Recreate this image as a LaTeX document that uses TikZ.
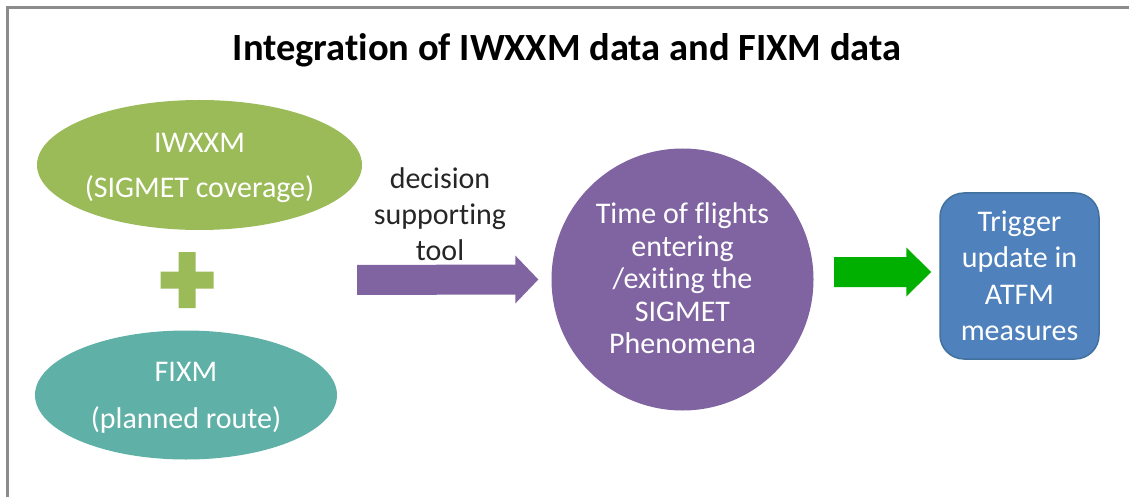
\documentclass[tikz,border=0pt]{standalone}
\usepackage{fontspec}
\setmainfont{Carlito}[Ligatures={NoCommon}]
\usetikzlibrary{shapes.geometric}
\definecolor{ogreen}{HTML}{9BBB59}
\definecolor{oteal}{HTML}{5FB0A6}
\definecolor{opurple}{HTML}{8064A2}
\definecolor{obright}{HTML}{00B000}
\definecolor{oblue}{HTML}{4F81BD}
\definecolor{oblueline}{HTML}{41719C}
\definecolor{frame}{HTML}{8C8C8C}
\tikzset{
  bodytext/.style={font=\fontsize{30}{#1}\selectfont, align=center, inner sep=0pt},
  oval/.style={ellipse, inner sep=0pt, text=white}
}
\begin{document}
\begin{tikzpicture}[x=1pt,y=-1pt]
\useasboundingbox (0,0) rectangle (1129,497);
% frame (top and left edges)
\draw[frame, line width=2.5pt] (7.5,497) -- (7.5,7.5) -- (1129,7.5);
% title
\node[font=\bfseries\fontsize{38.5}{44}\selectfont, inner sep=0pt] (title) at (567,50) {Integration of IWXXM data and FIXM data};
% IWXXM ellipse
\node[oval, fill=ogreen, minimum width=325, minimum height=130] (iw) at (199.5,165) {};
\node[bodytext=45, text=white] (iwt) at ([shift={(0,3)}]iw.center) {IWXXM\\(SIGMET coverage)};
% plus sign
\coordinate (plus) at (187,280);
\fill[ogreen] ([shift={(-8.5,-28)}]plus) -- ([shift={(8.5,-28)}]plus) -- ([shift={(8.5,-8.5)}]plus)
  -- ([shift={(26.5,-8.5)}]plus) -- ([shift={(26.5,8.5)}]plus) -- ([shift={(8.5,8.5)}]plus)
  -- ([shift={(8.5,28)}]plus) -- ([shift={(-8.5,28)}]plus) -- ([shift={(-8.5,8.5)}]plus)
  -- ([shift={(-26.5,8.5)}]plus) -- ([shift={(-26.5,-8.5)}]plus) -- ([shift={(-8.5,-8.5)}]plus) -- cycle;
% FIXM ellipse
\node[oval, fill=oteal, minimum width=302, minimum height=129] (fx) at (186,395) {};
\node[bodytext=47, text=white] (fxt) at ([shift={(0,3)}]fx.center) {FIXM\\(planned route)};
% circle
\node[circle, fill=opurple, minimum size=262, inner sep=0pt] (circ) at (682.5,279.5) {};
\node[bodytext=32.5, text=white] (circt) at ([shift={(0,-1)}]circ.center) {Time of flights\\entering\\/exiting the\\SIGMET\\Phenomena};
% blue box
\node[draw=oblueline, line width=1.5pt, fill=oblue, rounded corners=24pt, minimum width=159, minimum height=166, inner sep=0pt] (box) at (1019.5,276) {};
\node[bodytext=36.5, text=white] (boxt) at (box.center) {Trigger\\update in\\ATFM\\measures};
% decision label
\node[bodytext=36, text=black!85] (dec) at (440,214) {decision\\supporting\\tool};
% purple block arrow
\coordinate (pa) at (357,280);
\coordinate (pb) at ([shift={(-13,0)}]circ.west);
\fill[opurple] ([shift={(0,-15)}]pa) -- ([shift={(-23,-15)}]pb) -- ([shift={(-23,-24)}]pb) -- (pb)
  -- ([shift={(-23,24)}]pb) -- ([shift={(-23,15)}]pb) -- ([shift={(0,15)}]pa) -- cycle;
% green block arrow
\coordinate (ga) at (834,272);
\coordinate (gb) at ([shift={(-8,0)}]box.west |- ga);
\fill[obright] ([shift={(0,-15)}]ga) -- ([shift={(-25,-15)}]gb) -- ([shift={(-25,-24.5)}]gb) -- (gb)
  -- ([shift={(-25,24.5)}]gb) -- ([shift={(-25,15)}]gb) -- ([shift={(0,15)}]ga) -- cycle;
\end{tikzpicture}
\end{document}
